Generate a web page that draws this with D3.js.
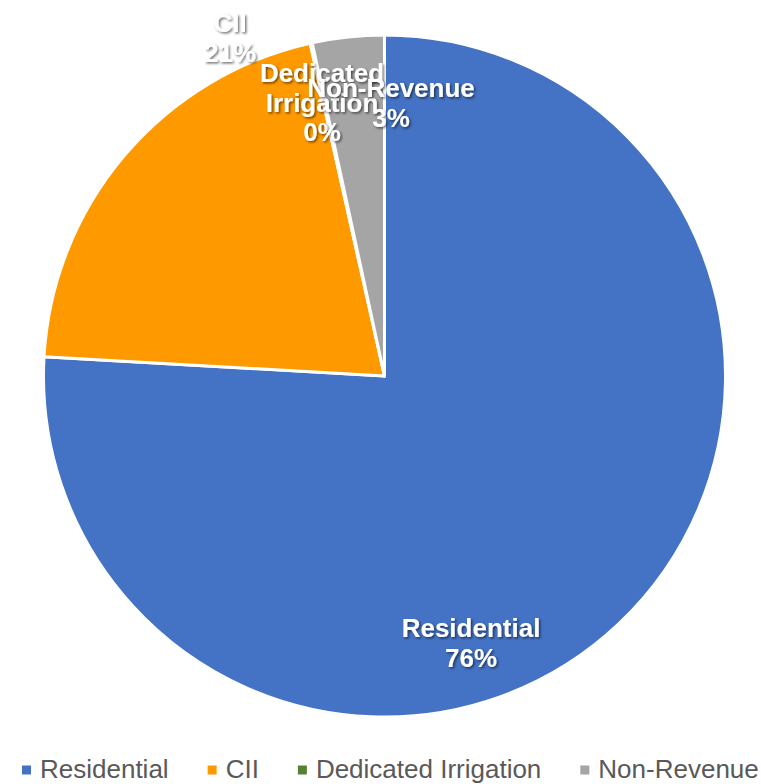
<!DOCTYPE html>
<html>
<head>
<meta charset="utf-8">
<script src="https://cdn.jsdelivr.net/npm/d3@7"></script>
<style>
  html, body { margin: 0; padding: 0; background: #fff; }
  svg { display: block; }
  text { font-family: "Liberation Sans", Arial, sans-serif; }
</style>
</head>
<body>
<svg id="chart" width="761" height="784"></svg>
<script>
// ---- data ----
const categories = ["Residential", "CII", "Dedicated Irrigation", "Non-Revenue"];
const shares = [75.9, 20.6, 0.1, 3.4];
const labelLines = [["Residential"], ["CII"], ["Dedicated", "Irrigation"], ["Non-Revenue"]];
const colors = ["#4472C4", "#FF9900", "#548235", "#A5A5A5"];

// ---- layout ----
const W = 761, H = 784;
const cx = 384.5, cy = 376, R = 341;
// label anchors (centre x, first baseline) relative to pie centre
const labelAnchors = [[86.5, 261], [-154.5, -344], [-62.5, -294], [6.5, -279]];
const lineH = 29.5;

const svg = d3.select("#chart");
const defs = svg.append("defs");
const f = defs.append("filter").attr("id", "shadow")
  .attr("x", "-20%").attr("y", "-20%").attr("width", "140%").attr("height", "140%");
f.append("feDropShadow").attr("dx", 1.5).attr("dy", 1.5).attr("stdDeviation", 1.3)
  .attr("flood-color", "#000").attr("flood-opacity", 0.55);

const data = categories.map((c, i) => ({ cat: c, value: shares[i], color: colors[i], lines: labelLines[i], anchor: labelAnchors[i] }));

const pie = d3.pie().sort(null).value(d => d.value);
const arc = d3.arc().innerRadius(0).outerRadius(R);
const arcs = pie(data);

const g = svg.append("g").attr("transform", `translate(${cx},${cy})`);
g.selectAll("path.slice").data(arcs).enter().append("path")
  .attr("class", "slice")
  .attr("d", arc)
  .attr("fill", d => d.data.color)
  .attr("stroke", "#fff")
  .attr("stroke-width", 3)
  .attr("stroke-linejoin", "round");

const total = d3.sum(shares);
const fmt = v => Math.round(v / total * 100) + "%";

const labels = g.selectAll("text.lbl").data(arcs).enter().append("text")
  .attr("class", "lbl")
  .attr("text-anchor", "middle")
  .attr("fill", "#fff")
  .attr("font-weight", "bold")
  .attr("font-size", 26)
  .attr("filter", "url(#shadow)")
  .attr("transform", d => `translate(${d.data.anchor[0]},${d.data.anchor[1]})`);
labels.each(function(d) {
  const t = d3.select(this);
  const lines = d.data.lines.concat([fmt(d.data.value)]);
  lines.forEach((s, i) => {
    t.append("tspan").attr("x", 0).attr("y", i * lineH).text(s);
  });
});

// ---- legend ----
const legend = svg.append("g").attr("class", "legend");
let x = 22;
const legY = 778;
data.forEach(d => {
  legend.append("rect").attr("x", x).attr("y", 765.5).attr("width", 9).attr("height", 9).attr("fill", d.color);
  const t = legend.append("text").attr("x", x + 18).attr("y", legY)
    .attr("font-size", 26).attr("fill", "#595959").text(d.cat);
  x += 18 + t.node().getComputedTextLength() + 39;
});
</script>
</body>
</html>
